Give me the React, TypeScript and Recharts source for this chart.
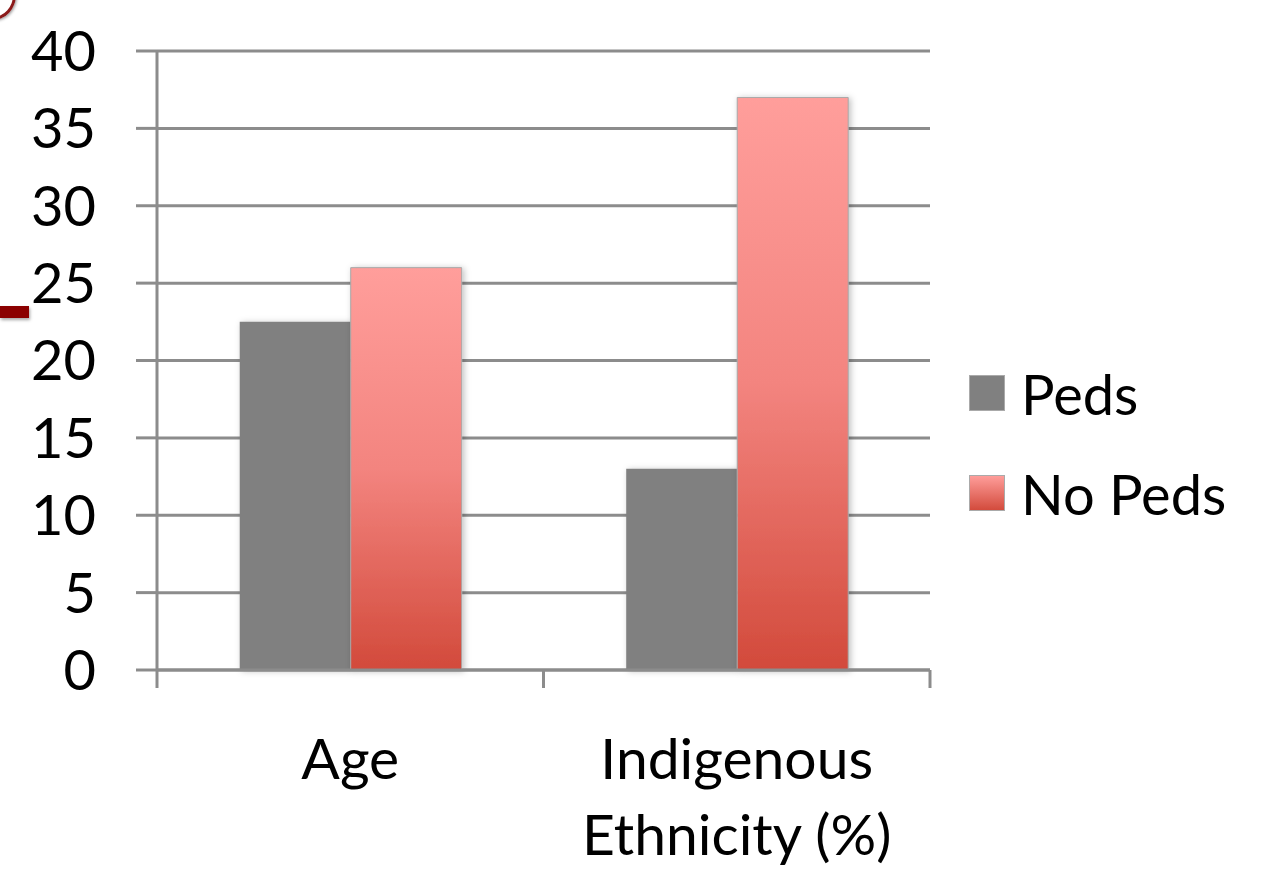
import React from "react";
import { BarChart, Bar, XAxis, YAxis, CartesianGrid } from "recharts";

const categories = ["Age", "Indigenous\nEthnicity (%)"];
const pedsValues = [22.5, 13];
const noPedsValues = [26, 37];
const yTicks = [0, 5, 10, 15, 20, 25, 30, 35, 40];
const seriesNames = ["Peds", "No Peds"];

const data = categories.map((c, i) => ({
  category: c,
  peds: pedsValues[i],
  noPeds: noPedsValues[i],
}));

const FONT = "Lato, 'Open Sans', sans-serif";
const GRID = "#8c8c8c";

const CategoryTick = (props: any) => {
  const { x, y, payload, index, visibleTicksCount } = props;
  const offset = payload && payload.offset != null ? payload.offset : 193;
  const lines = String(payload.value).split("\n");
  const isLast = index === (visibleTicksCount ?? categories.length) - 1;
  return (
    <g>
      <line x1={x - offset} x2={x - offset} y1={y} y2={y + 18} stroke={GRID} strokeWidth={3} />
      {isLast && (
        <line x1={x + offset} x2={x + offset} y1={y} y2={y + 18} stroke={GRID} strokeWidth={3} />
      )}
      {lines.map((l, i) => (
        <text
          key={i}
          x={x}
          y={y + 109 + i * 76}
          textAnchor="middle"
          fontFamily={FONT}
          fontSize={57}
          fill="#000"
        >
          {l}
        </text>
      ))}
    </g>
  );
};

const LegendBox = () => (
  <div
    style={{
      position: "absolute",
      left: 969,
      top: 343,
      fontFamily: FONT,
      fontSize: 56,
      color: "#000",
    }}
  >
    {seriesNames.map((n, i) => (
      <div key={n} style={{ display: "flex", alignItems: "center", height: 100 }}>
        <svg width={36} height={36} style={{ marginRight: 16 }}>
          <defs>
            <linearGradient id={"lg" + i} x1="0" y1="0" x2="0" y2="1">
              <stop offset="0%" stopColor="#ff9e9b" />
              <stop offset="100%" stopColor="#d24a3b" />
            </linearGradient>
          </defs>
          <rect
            x={0.5}
            y={0.5}
            width={35}
            height={35}
            fill={i === 0 ? "#808080" : "url(#lg1)"}
            stroke="#aaa"
            strokeWidth={1}
          />
        </svg>
        <span>{n}</span>
      </div>
    ))}
  </div>
);

export default function App() {
  return (
    <div style={{ position: "absolute", left: 0, top: 0, width: 1276, height: 873, background: "#fff" }}>
      <div
        style={{
          position: "absolute",
          left: -30,
          top: -30,
          width: 40,
          height: 44,
          borderRadius: "50%",
          border: "3px solid #8b1a1a",
          boxShadow: "1px 1px 3px rgba(0,0,0,0.4)",
        }}
      />
      <div
        style={{
          position: "absolute",
          left: 0,
          top: 306,
          width: 29,
          height: 12,
          background: "#8b0000",
          boxShadow: "1px 2px 3px rgba(0,0,0,0.35)",
        }}
      />
      <BarChart
        width={1276}
        height={873}
        data={data}
        margin={{ top: 51, right: 346, bottom: 0, left: 0 }}
        barCategoryGap="21.4%"
        barGap={0}
      >
        <defs>
          <linearGradient id="noPedsGrad" x1="0" y1="0" x2="0" y2="1">
            <stop offset="0%" stopColor="#ff9e9b" />
            <stop offset="50%" stopColor="#f3847f" />
            <stop offset="100%" stopColor="#d24a3b" />
          </linearGradient>
          <filter id="barShadow" x="-10%" y="-10%" width="125%" height="120%">
            <feDropShadow dx="2" dy="1" stdDeviation="3" floodColor="#000" floodOpacity="0.25" />
          </filter>
        </defs>
        <CartesianGrid vertical={false} stroke={GRID} strokeWidth={3} />
        <XAxis
          dataKey="category"
          height={203}
          interval={0}
          axisLine={{ stroke: GRID, strokeWidth: 3 }}
          tickLine={false}
          tickSize={0}
          tickMargin={0}
          tick={<CategoryTick />}
        />
        <YAxis
          domain={[0, 40]}
          ticks={yTicks}
          width={157}
          interval={0}
          axisLine={{ stroke: GRID, strokeWidth: 3 }}
          tickLine={{ stroke: GRID, strokeWidth: 3 }}
          tickSize={21}
          tickMargin={40}
          tick={{ fontFamily: FONT, fontSize: 56, fill: "#000" }}
        />
        <Bar
          dataKey="peds"
          name={seriesNames[0]}
          fill="#808080"
          filter="url(#barShadow)"
          isAnimationActive={false}
        />
        <Bar
          dataKey="noPeds"
          name={seriesNames[1]}
          fill="url(#noPedsGrad)"
          stroke="#a8a8a8"
          strokeWidth={1}
          filter="url(#barShadow)"
          isAnimationActive={false}
        />
      </BarChart>
      <LegendBox />
    </div>
  );
}
